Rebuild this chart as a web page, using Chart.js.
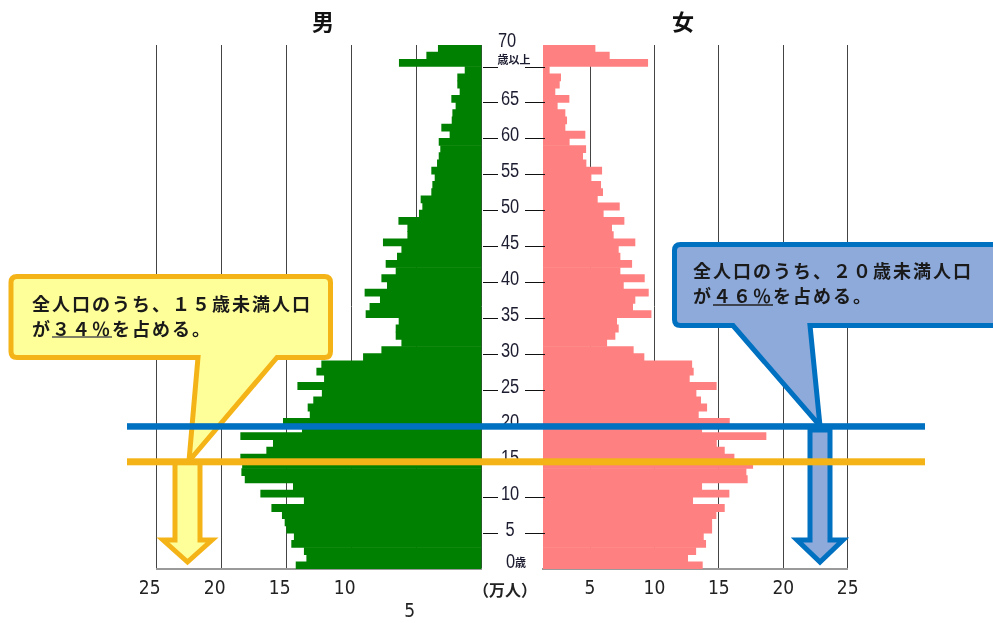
<!DOCTYPE html>
<html>
<head>
<meta charset="utf-8">
<script src="https://cdn.jsdelivr.net/npm/chart.js@4.4.1/dist/chart.umd.min.js"></script>
<style>
  html, body { margin: 0; padding: 0; background: #fff; }
  #wrap { position: relative; width: 993px; height: 623px; overflow: hidden; font-family: 'Noto Sans CJK JP', sans-serif; }
  #maleBox { position: absolute; left: 0; top: 0; }
  #femaleBox { position: absolute; left: 483px; top: 0; }
  .title { position: absolute; top: 9px; width: 40px; text-align: center; font-size: 22px; line-height: 22px; font-weight: bold; color: #111; }
  #unit { position: absolute; left: 465px; top: 581px; width: 80px; text-align: center; font-size: 16px; line-height: 17px; font-weight: bold; color: #222; }
  svg { position: absolute; left: 0; top: 0; }
  svg text { font-family: 'Noto Sans CJK JP', sans-serif; font-size: 18px; font-weight: bold; letter-spacing: 2px; fill: #1a1a1a; }
</style>
</head>
<body>
<div id="wrap">
  <div id="maleBox"><canvas id="maleChart" width="483" height="623"></canvas></div>
  <div id="femaleBox"><canvas id="femaleChart" width="510" height="623"></canvas></div>
  <div class="title" style="left:303px">男</div>
  <div class="title" style="left:663px">女</div>
  <div id="unit">（万人）</div>

  <svg width="993" height="623">
    <!-- 15歳未満 callout -->
    <path d="M 17,276.5 H 324.5 Q 330.5,276.5 330.5,282.5 V 351.5 Q 330.5,357.5 324.5,357.5 H 277 L 189,461 L 198,357.5 H 17 Q 11,357.5 11,351.5 V 282.5 Q 11,276.5 17,276.5 Z"
          fill="#FFFF99" stroke="#F4B418" stroke-width="5" stroke-linejoin="miter"/>
    <text x="32" y="303" dominant-baseline="central">全人口のうち、１５歳未満人口</text>
    <text x="32" y="328" dominant-baseline="central">が３４％を占める。</text>
    <line x1="52" y1="337" x2="112" y2="337" stroke="#555" stroke-width="1.5"/>

    <!-- 20歳未満 callout -->
    <path d="M 680.5,244.5 H 1000 V 325.5 H 810 L 820,426 L 733,325.5 H 680.5 Q 674.5,325.5 674.5,319.5 V 250.5 Q 674.5,244.5 680.5,244.5 Z"
          fill="#8EAADB" stroke="#0070C0" stroke-width="5" stroke-linejoin="miter"/>
    <text x="693" y="270" dominant-baseline="central">全人口のうち、２０歳未満人口</text>
    <text x="693" y="295" dominant-baseline="central">が４６％を占める。</text>
    <line x1="713" y1="305" x2="773" y2="305" stroke="#222" stroke-width="1.5"/>

    <!-- down arrows -->
    <path d="M 175,462 H 200 V 540 H 212 L 187.5,562 L 163,540 H 175 Z" fill="#FFFF99" stroke="#F4B418" stroke-width="5"/>
    <path d="M 810,430 H 830 V 540 H 843 L 820,562 L 797,540 H 810 Z" fill="#8EAADB" stroke="#0070C0" stroke-width="5"/>

    <!-- age 20 / age 15 lines -->
    <rect x="127" y="423.2" width="798" height="6.5" fill="#0070C0"/>
    <rect x="127" y="458.3" width="798" height="7" fill="#F4B418"/>
  </svg>
</div>

<script>
// ages from the bottom bar (0) up; the last three bars are the 70歳以上 group
const ages = Array.from({ length: 70 }, (_, i) => String(i)).concat(['70歳以上', '70歳以上', '70歳以上']);

// 男 (万人)
const male = [
  14.28, 13.46, 13.65, 14.62, 14.42, 15.0, 15.13, 15.34, 16.15, 13.65,
  17.0, 14.49, 18.2, 18.46, 18.4, 18.54, 16.54, 16.03, 18.54, 13.8,
  15.26, 13.2, 13.36, 12.93, 12.27, 14.15, 12.1, 12.69, 12.31, 9.1,
  7.69, 6.15, 6.59, 6.59, 6.36, 8.9, 8.6, 7.8, 8.98, 7.26,
  7.69, 6.59, 7.36, 6.49, 6.15, 7.57, 5.69, 5.69, 6.38, 4.8,
  4.54, 4.67, 3.85, 3.77, 3.59, 3.85, 3.41, 3.28, 3.16, 3.28,
  2.44, 3.08, 2.28, 2.23, 1.98, 2.31, 1.67, 1.85, 1.85, 1.28,
  6.34, 4.23, 3.34
];

// 女 (万人)
const female = [
  13.72, 12.58, 13.21, 13.98, 13.8, 14.45, 14.45, 14.78, 15.43, 12.97,
  15.79, 13.67, 17.21, 17.11, 17.63, 16.18, 15.43, 14.81, 18.66, 13.67,
  15.82, 13.41, 14.06, 13.59, 13.23, 14.8, 12.71, 13.02, 12.9, 9.19,
  8.36, 6.3, 6.94, 7.2, 7.07, 9.74, 8.31, 8.49, 9.53, 7.59,
  9.22, 7.33, 8.24, 7.33, 7.2, 8.49, 6.81, 6.68, 7.64, 6.03,
  7.28, 5.57, 5.98, 5.83, 5.08, 5.91, 4.69, 4.43, 4.67, 3.39,
  4.61, 3.06, 3.19, 3.06, 2.46, 3.37, 2.28, 2.62, 2.72, 1.84,
  9.48, 6.5, 5.39
];

const maleTicks = [0, 5, 10, 15, 20, 25];
const femaleTicks = [5, 10, 15, 20, 25];
const ageTicks = [0, 5, 10, 15, 20, 25, 30, 35, 40, 45, 50, 55, 60, 65, 70];

// the female bars start a little right of the female grid's zero in the source
const FEMALE_AXIS_START = 1.35;

const numFont = "'Liberation Sans Narrow', 'Arial Narrow', 'DejaVu Sans Condensed', sans-serif";

// narrow digits for the age labels
function narrowText(ctx, text, x, y, align) {
  ctx.save();
  ctx.translate(x, y);
  ctx.scale(0.82, 1);
  ctx.textAlign = align;
  ctx.fillText(text, 0, 0);
  ctx.restore();
}

// age labels and tick dashes in the gap between the two halves
const centerAxis = {
  id: 'centerAxis',
  afterDraw(chart) {
    const ctx = chart.ctx;
    const y = chart.scales.y;
    ctx.save();
    ctx.strokeStyle = '#111';
    ctx.lineWidth = 1.2;
    ctx.fillStyle = '#1c1c30';
    ageTicks.forEach(a => {
      const py = Math.round(y.getPixelForValue(a - 0.5)) + 0.5;
      if (a > 0) {
        ctx.beginPath();
        ctx.moveTo(0, py); ctx.lineTo(15, py);
        ctx.moveTo(42, py); ctx.lineTo(62, py);
        ctx.stroke();
      }
      ctx.font = "20px 'Liberation Sans', Arial, sans-serif";
      if (a === 70) {
        narrowText(ctx, '70', 24, py - 21, 'center');
        ctx.font = "bold 11px 'Noto Sans CJK JP'";
        ctx.textAlign = 'center';
        ctx.fillText('歳以上', 31, py - 4);
      } else if (a === 0) {
        narrowText(ctx, '0', 32, py - 2, 'right');
        ctx.textAlign = 'left';
        ctx.font = "bold 11px 'Noto Sans CJK JP'";
        ctx.fillText('歳', 32, py - 3);
      } else {
        narrowText(ctx, String(a), 27, py + 2, 'center');
      }
    });
    ctx.restore();
  }
};

function halfChart(id, values, color, xOpts, padding, plugins) {
  return new Chart(document.getElementById(id), {
    type: 'bar',
    data: {
      labels: ages,
      datasets: [{
        data: values,
        backgroundColor: color,
        borderWidth: 0,
        barPercentage: 1,
        categoryPercentage: 1
      }]
    },
    options: {
      indexAxis: 'y',
      responsive: false,
      animation: false,
      layout: { padding: padding },
      plugins: { legend: { display: false }, tooltip: { enabled: false } },
      scales: {
        x: Object.assign({
          type: 'linear',
          max: 25,
          afterFit: s => { s.height = 54; },
          grid: { color: '#444', lineWidth: 1, drawTicks: false },
          border: { display: true, color: '#9a9a9a', width: 2 }
        }, xOpts),
        y: { type: 'category', reverse: true, display: false }
      }
    },
    plugins: plugins
  });
}

halfChart('maleChart', male, '#008000', {
  reverse: true,
  min: 0,
  afterBuildTicks: s => { s.ticks = maleTicks.map(v => ({ value: v })); },
  ticks: {
    padding: 9, labelOffset: -7, autoSkip: false, maxRotation: 0,
    color: '#222', font: { family: numFont, size: 19 },
    callback: v => v === 0 ? '' : (v === 5 ? ['', '5'] : String(v))
  }
}, { left: 156.7, right: 1.3, top: 45, bottom: 0 }, []);

halfChart('femaleChart', female, '#FF8080', {
  min: FEMALE_AXIS_START,
  afterBuildTicks: s => { s.ticks = femaleTicks.map(v => ({ value: v })); },
  ticks: {
    padding: 9, autoSkip: false, maxRotation: 0,
    color: '#222', font: { family: numFont, size: 19 },
    callback: v => String(v)
  }
}, { left: 60, right: 145.3, top: 45, bottom: 0 }, [centerAxis]);
</script>
</body>
</html>
